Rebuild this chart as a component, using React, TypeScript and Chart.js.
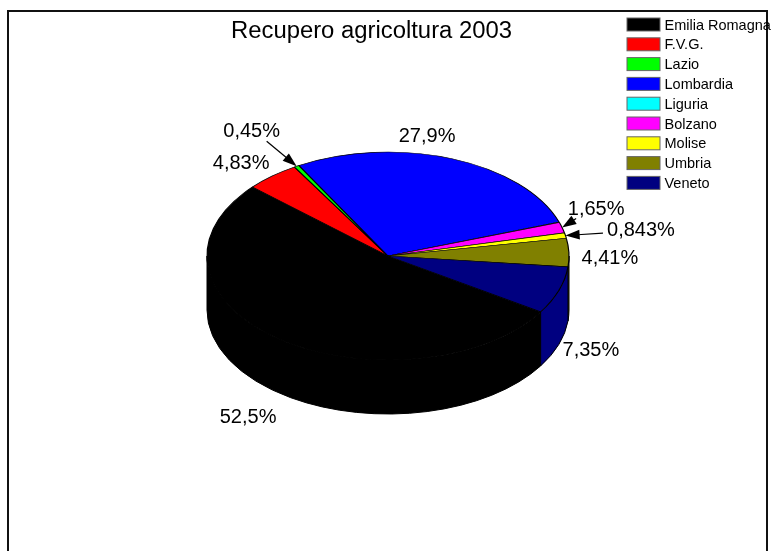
import React, { useEffect, useRef } from "react";
import { Chart, registerables } from "chart.js";

Chart.register(...registerables);

const chartTitle = "Recupero agricoltura 2003";
const regions = ["Emilia Romagna", "F.V.G.", "Lazio", "Lombardia", "Liguria", "Bolzano", "Molise", "Umbria", "Veneto"];
const shares = [52.5, 4.83, 0.45, 27.9, 0.067, 1.65, 0.843, 4.41, 7.35];
const shareLabels = ["52,5%", "4,83%", "0,45%", "27,9%", "", "1,65%", "0,843%", "4,41%", "7,35%"];
const sliceColors = ["#000000", "#ff0000", "#00ff00", "#0000ff", "#00ffff", "#ff00ff", "#ffff00", "#808000", "#000080"];

// Label centres relative to each slice's rim point; "tail" adds a leader arrow.
const labelOffsets: ({ dx: number; dy: number; tail?: [number, number] } | null)[] = [
  { dx: -31, dy: 78 },
  { dx: -31, dy: -13 },
  { dx: -45, dy: -35, tail: [-30, -25] },
  { dx: -25, dy: -22 },
  null,
  { dx: 34, dy: -18.5, tail: [14, -9] },
  { dx: 75.5, dy: -5, tail: [37.5, -2.5] },
  { dx: 41, dy: 6 },
  { dx: 32, dy: 60 },
];

const TILT = 104 / 181;
const DEPTH = 54;
const FONT = '"Liberation Sans", Arial, sans-serif';

// Squashes the flat pie into a tilted disc and extrudes its front rim.
const tiltedDisc = {
  id: "tiltedDisc",
  beforeDatasetDraw(chart: any) {
    const { ctx } = chart;
    const arcs = chart.getDatasetMeta(0).data;
    ctx.save();
    ctx.lineWidth = 1;
    ctx.strokeStyle = "#000";
    arcs.forEach((arc: any, i: number) => {
      const ry = arc.outerRadius * TILT;
      for (const [lo, hi] of [[0, Math.PI], [2 * Math.PI, 3 * Math.PI]]) {
        const a = Math.max(arc.startAngle, lo);
        const b = Math.min(arc.endAngle, hi);
        if (b <= a) continue;
        ctx.beginPath();
        ctx.ellipse(arc.x, arc.y + DEPTH, arc.outerRadius, ry, 0, a, b);
        ctx.ellipse(arc.x, arc.y, arc.outerRadius, ry, 0, b, a, true);
        ctx.closePath();
        ctx.fillStyle = sliceColors[i];
        ctx.fill();
        ctx.stroke();
      }
    });
    ctx.restore();

    const { x, y } = arcs[0];
    ctx.save();
    ctx.translate(x, y);
    ctx.scale(1, TILT);
    ctx.translate(-x, -y);
  },
  afterDatasetDraw(chart: any) {
    chart.ctx.restore();
  },
};

function drawArrow(ctx: CanvasRenderingContext2D, fromX: number, fromY: number, toX: number, toY: number) {
  const angle = Math.atan2(toY - fromY, toX - fromX);
  const length = 15;
  const spread = 0.33;
  ctx.beginPath();
  ctx.moveTo(fromX, fromY);
  ctx.lineTo(toX - Math.cos(angle) * length * 0.8, toY - Math.sin(angle) * length * 0.8);
  ctx.lineWidth = 1.2;
  ctx.strokeStyle = "#000";
  ctx.stroke();
  ctx.beginPath();
  ctx.moveTo(toX, toY);
  ctx.lineTo(toX - Math.cos(angle - spread) * length, toY - Math.sin(angle - spread) * length);
  ctx.lineTo(toX - Math.cos(angle + spread) * length, toY - Math.sin(angle + spread) * length);
  ctx.closePath();
  ctx.fillStyle = "#000";
  ctx.fill();
}

// Frame, title, value labels with leaders, and the swatch list at top right.
const annotations = {
  id: "annotations",
  afterDraw(chart: any) {
    const { ctx } = chart;
    const arcs = chart.getDatasetMeta(0).data;
    ctx.save();

    ctx.strokeStyle = "#111";
    ctx.lineWidth = 2;
    ctx.beginPath();
    ctx.moveTo(8, 560);
    ctx.lineTo(8, 11);
    ctx.lineTo(767, 11);
    ctx.lineTo(767, 560);
    ctx.stroke();

    ctx.fillStyle = "#000";
    ctx.textBaseline = "middle";
    ctx.textAlign = "center";
    ctx.font = `23.85px ${FONT}`;
    ctx.fillText(chartTitle, 371.5, 31.5);

    arcs.forEach((arc: any, i: number) => {
      const place = labelOffsets[i];
      if (!place) return;
      const mid = (arc.startAngle + arc.endAngle) / 2;
      const rimX = arc.x + Math.cos(mid) * arc.outerRadius;
      const rimY = arc.y + Math.sin(mid) * arc.outerRadius * TILT;
      if (place.tail) drawArrow(ctx, rimX + place.tail[0], rimY + place.tail[1], rimX, rimY);
      ctx.fillStyle = "#000";
      ctx.font = `20px ${FONT}`;
      ctx.textAlign = "center";
      ctx.fillText(shareLabels[i], rimX + place.dx, rimY + place.dy);
    });

    ctx.textAlign = "left";
    ctx.font = `14.5px ${FONT}`;
    regions.forEach((name, i) => {
      const rowY = 24.5 + i * 19.8;
      ctx.fillStyle = sliceColors[i];
      ctx.fillRect(627, rowY - 6.5, 33, 13);
      ctx.strokeStyle = "#666";
      ctx.lineWidth = 1;
      ctx.strokeRect(627, rowY - 6.5, 33, 13);
      ctx.fillStyle = "#000";
      ctx.fillText(name, 664.5, rowY + 1);
    });
    ctx.restore();
  },
};

export default function App() {
  const canvasRef = useRef<HTMLCanvasElement>(null);

  useEffect(() => {
    document.body.style.margin = "0";
    const chart = new Chart(canvasRef.current!, {
      type: "pie",
      data: {
        labels: regions,
        datasets: [
          {
            data: shares,
            backgroundColor: sliceColors,
            borderColor: "#000",
            borderWidth: 1.2,
            radius: 181,
            clip: false,
          } as any,
        ],
      },
      options: {
        responsive: false,
        animation: false,
        events: [],
        rotation: 122.5,
        layout: { padding: { left: 4, right: 0, top: 0, bottom: 39 } },
        plugins: { legend: { display: false }, title: { display: false }, tooltip: { enabled: false } },
      },
      plugins: [tiltedDisc, annotations],
    });
    return () => chart.destroy();
  }, []);

  return <canvas ref={canvasRef} width={772} height={551} style={{ display: "block" }} />;
}
